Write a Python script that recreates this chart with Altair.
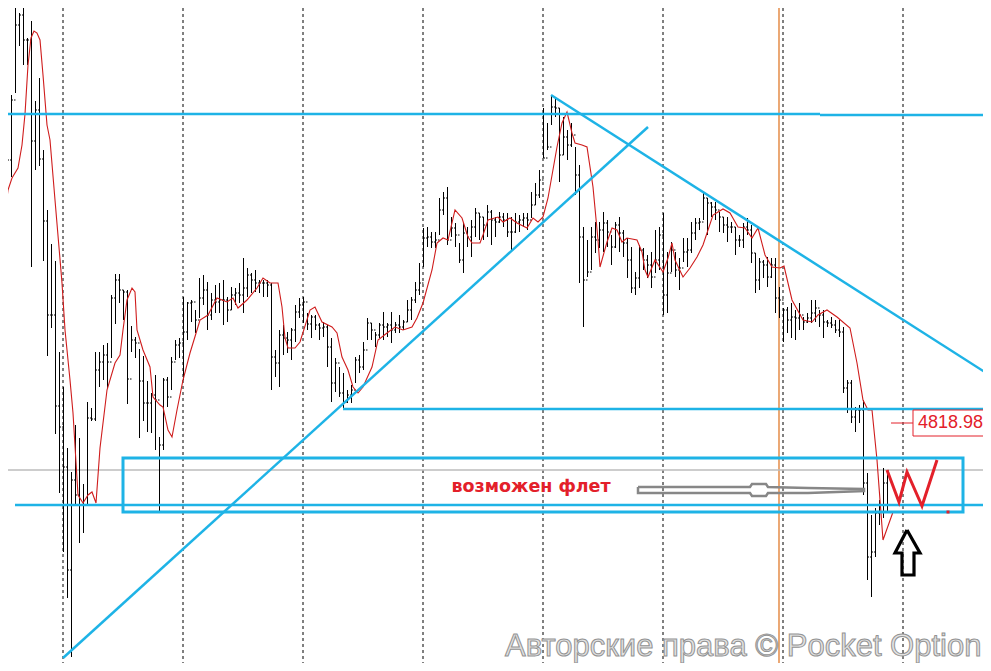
import altair as alt
import pandas as pd

# ---- OHLC bars (prices) ----
high = [5086,5088,5147,5240,5229,5242,5204,5221,5141,5164,
        5092,5032,4998,4981,4890,4855,4794,4770,4817,4804,
        4758,4840,4834,4890,4890,4897,4899,4947,4968,4968,
        4952,4952,4916,4905,4893,4886,4861,4849,4867,4805,
        4864,4865,4885,4902,4904,4945,4940,4942,4932,4964,
        4967,4960,4949,4957,4959,4962,4945,4955,4954,4959,
        4984,4974,4969,4972,4962,4962,4962,4959,4892,4912,
        4917,4910,4914,4937,4944,4945,4929,4927,4927,4919,
        4920,4917,4904,4884,4875,4869,4852,4857,4885,4887,
        4900,4924,4919,4910,4919,4930,4919,4930,4920,4927,
        4922,4942,4945,4960,4979,5014,5015,5010,5010,5044,
        5050,5055,5025,5019,4999,5019,5015,5022,5034,5029,
        5025,5037,5032,5025,5030,5029,5029,5025,5029,5027,
        5029,5029,5050,5059,5072,5134,5119,5147,5145,5134,
        5125,5112,5119,5095,5077,5015,5002,5015,5020,5020,
        5030,5022,5007,5020,5025,5012,5004,4995,4970,4997,
        4994,4987,4990,5012,5015,5029,4990,5000,4990,4984,
        5004,5004,5020,5024,5024,5050,5044,5040,5040,5030,
        5025,5025,5020,5015,5007,5019,5024,5017,4989,4984,
        4982,4985,4984,4984,4955,4934,4935,4939,4932,4939,
        4925,4929,4942,4942,4932,4932,4922,4925,4922,4922,
        4915,4862,4862,4835,4837,4842,4769,4727,4734,4742,
        4774,4772]
low = [5048,5044,5065,5149,5196,5177,5177,4975,5072,5076,
       4981,4886,4914,4808,4749,4690,4644,4585,4737,4699,
       4709,4737,4821,4821,4855,4862,4853,4884,4918,4939,
       4922,4838,4890,4884,4804,4821,4810,4809,4792,4729,
       4792,4835,4852,4882,4884,4862,4902,4920,4909,4924,
       4937,4912,4922,4929,4929,4917,4920,4932,4937,4939,
       4929,4945,4949,4950,4949,4945,4945,4852,4865,4855,
       4887,4889,4882,4900,4924,4919,4912,4904,4912,4902,
       4905,4875,4840,4850,4845,4832,4839,4839,4859,4869,
       4872,4902,4902,4895,4904,4902,4905,4899,4909,4909,
       4912,4920,4922,4939,4947,4975,4995,4994,4994,5007,
       5027,4997,5005,4995,4979,4969,4995,4985,5005,5002,
       5002,5005,4997,5005,5019,5015,5005,4990,5009,5010,
       5015,5012,5024,5037,5044,5084,5092,5117,5125,5060,
       5087,5082,5095,5047,4959,4915,4965,4972,4989,4994,
       4990,4995,4977,4994,4990,4985,4964,4949,4947,4954,
       4972,4964,4954,4969,4972,4927,4929,4970,4965,4952,
       4980,4975,4989,5002,5012,5022,5007,5025,5022,5010,
       5009,5000,5009,4987,4995,4994,5007,4979,4949,4952,
       4964,4955,4964,4929,4924,4900,4909,4904,4902,4912,
       4912,4919,4919,4920,4915,4904,4915,4914,4909,4905,
       4849,4829,4819,4810,4819,4747,4662,4645,4685,4717,
       4724,4730]
close = [5072,5082,5142,5217,5227,5202,5202,5101,5132,5083,
         5021,4927,4927,4836,4815,4775,4672,4762,4747,4737,
         4737,4824,4823,4872,4880,4887,4880,4944,4962,4952,
         4950,4863,4902,4899,4861,4839,4839,4847,4842,4797,
         4862,4845,4880,4897,4899,4910,4939,4940,4922,4944,
         4952,4927,4942,4940,4942,4942,4932,4947,4949,4947,
         4954,4967,4962,4959,4959,4959,4957,4885,4879,4907,
         4904,4902,4912,4930,4937,4940,4918,4925,4917,4914,
         4915,4895,4859,4879,4849,4840,4847,4852,4882,4875,
         4892,4919,4912,4907,4917,4915,4917,4912,4917,4915,
         4920,4932,4942,4952,4959,5004,5005,5000,5002,5032,
         5044,5002,5014,5007,4982,5009,5005,5015,5029,5025,
         5017,5030,5022,5020,5025,5022,5010,5010,5020,5022,
         5024,5022,5037,5047,5062,5084,5095,5135,5134,5087,
         5105,5097,5107,5067,5005,4962,4970,5005,5002,5012,
         5019,5010,4995,5017,5009,4999,4982,4954,4964,4992,
         4982,4977,4965,4982,5007,4947,4969,4992,4972,4974,
         4990,4992,5009,5019,5020,5044,5039,5035,5032,5025,
         5017,5015,5015,5002,5002,5015,5012,4989,4962,4980,
         4977,4965,4977,4944,4942,4932,4922,4925,4924,4927,
         4920,4924,4929,4934,4927,4920,4919,4917,4912,4910,
         4854,4859,4825,4832,4832,4759,4685,4690,4729,4730,
         4759,4771]

# ---- moving average (red line): time, price ----
ma_t = [0,4,8,12,18,22,25,28,31,34,37,40,43,47,50,55,62,65,70,73,78,83,88,92,96,
        100,107,115,120,123,127,132,135,137,143,150,153,160,163,168,172,177,183,190,197,
        200,208,217,227,233,238,247,257,263,270,278,282,285,288,295,300,310,315,322,332,
        337,342,348,353,358,363,372,378,387,395,403,412,417,423,432,437,443,448,455,462,
        468,472,480,483,488,498,503,510,517,527,533,538,543,548,557,562,567,572,575,582,
        587,593,598,600,607,612,617,622,627,637,642,645,648,655,663,668,672,675,683,690,
        697,703,713,723,730,738,745,752,758,765,772,780,784,792,803,812,818,827,837,850,
        857,863,868,872,877,883,893]
ma_p = [4994,5022,5052,5064,5074,5097,5128,5177,5204,5211,5209,5202,5167,5117,5102,5042,4959,4912,4862,4829,4747,4739,4747,4750,4739,
        4794,4852,4879,4887,4912,4942,4954,4950,4912,4892,4875,4845,4837,4835,4812,4805,4832,4862,4889,4912,
        4922,4927,4944,4940,4944,4934,4942,4954,4964,4959,4959,4935,4904,4894,4894,4900,4932,4935,4920,4915,
        4909,4885,4872,4855,4849,4855,4875,4902,4909,4915,4912,4915,4924,4939,4972,4999,5004,5002,5032,5024,
        5005,4999,4999,5007,5022,5025,5020,5024,5019,5014,5024,5020,5025,5044,5095,5119,5130,5109,5099,5097,
        5095,5055,5002,4975,5000,5014,5012,5000,5004,5002,4990,4972,4965,4982,4970,4984,4999,4982,4965,4974,
        4985,4997,5027,5033,5029,5015,5014,5004,5014,4987,4975,4974,4976,4942,4922,4920,4927,4932,4925,4914,
        4879,4842,4832,4832,4782,4702,4730]

# ---- annotations ----
grid_t = [63, 183, 303, 423, 543, 663, 783, 903]
marker_t = [779]
last_price = [4772]

seg_x1 = [0, 820, 343, 15, 63, 551]
seg_x2 = [820, 991, 991, 991, 648, 991]
seg_y1 = [5128, 5127, 4833, 4737, 4584, 5147]
seg_y2 = [5128, 5127, 4833, 4737, 5115, 4866]

box_x = [123, 963]
box_y = [4784, 4730]

arrow_gray_t = [638, 750, 752, 766, 768, 808, 864, 864, 808, 768, 766, 752, 750, 638, 638]
arrow_gray_p = [4755, 4755, 4758, 4758, 4755, 4754, 4753, 4751, 4749, 4749, 4746, 4746, 4749, 4749, 4755]

w_t = [887, 899, 907, 922, 937]
w_p = [4772, 4740, 4770, 4736, 4782]

up_t = [907, 920, 914, 914, 902, 902, 895, 907]
up_p = [4712, 4689, 4689, 4667, 4667, 4689, 4689, 4712]

note_text = ["возможен флет"]
price_label = ["4818.98"]
watermark = ["Авторские права © Pocket Option"]

# ---- build ----
N = len(close)
t = [4 * n - 0.5 for n in range(1, N + 1)]
open_ = [close[0]] + close[:-1]
bars = pd.DataFrame({"t": t, "high": high, "low": low, "close": close, "open": open_})
bars["tl"] = bars["t"] - 1.5
bars["tr"] = bars["t"] + 1.5

xs = alt.Scale(domain=[8, 983], nice=False, zero=False)
ys = alt.Scale(domain=[4579, 5234], nice=False, zero=False)


def X(f):
    return alt.X(f, type="quantitative", scale=xs, axis=None)


def Y(f):
    return alt.Y(f, type="quantitative", scale=ys, axis=None)


cyan = "#1eb3e6"
red = "#e3202a"

grid = alt.Chart(pd.DataFrame({"t": grid_t})).mark_rule(
    color="black", strokeWidth=1, strokeDash=[3, 3]).encode(x=X("t"))
marker = alt.Chart(pd.DataFrame({"t": marker_t})).mark_rule(
    color="#e07a2c", strokeWidth=1.3).encode(x=X("t"))
lastp = alt.Chart(pd.DataFrame({"p": last_price})).mark_rule(
    color="#bdbdbd", strokeWidth=1.5).encode(y=Y("p"))

hl = alt.Chart(bars).mark_rule(color="black", strokeWidth=1, clip=True).encode(
    x=X("t"), y=Y("low"), y2="high")
op = alt.Chart(bars).mark_rule(color="black", strokeWidth=1, clip=True).encode(
    x=X("tl"), x2="t", y=Y("open"))
cl = alt.Chart(bars).mark_rule(color="black", strokeWidth=1, clip=True).encode(
    x=X("t"), x2="tr", y=Y("close"))

ma = alt.Chart(pd.DataFrame({"t": ma_t, "p": ma_p})).mark_line(
    color="#cf1c1c", strokeWidth=1.1, clip=True).encode(x=X("t"), y=Y("p"))

segs = alt.Chart(pd.DataFrame({"x1": seg_x1, "x2": seg_x2, "y1": seg_y1, "y2": seg_y2})).mark_rule(
    color=cyan, strokeWidth=2.5, clip=True).encode(x=X("x1"), x2="x2", y=Y("y1"), y2="y2")

box = alt.Chart(pd.DataFrame({"x1": [box_x[0]], "x2": [box_x[1]], "y1": [box_y[0]], "y2": [box_y[1]]})).mark_rect(
    fillOpacity=0, stroke=cyan, strokeWidth=3, clip=True).encode(x=X("x1"), x2="x2", y=Y("y1"), y2="y2")

gray_arrow = alt.Chart(pd.DataFrame({"t": arrow_gray_t, "p": arrow_gray_p, "k": list(range(len(arrow_gray_t)))})).mark_line(
    color="#878787", strokeWidth=2.5).encode(x=X("t"), y=Y("p"), order=alt.Order("k:Q"))

note = alt.Chart(pd.DataFrame({"t": [531], "p": [4755], "s": note_text})).mark_text(
    font="DejaVu Sans", fontWeight="bold", fontSize=17.5, color=red, align="center", baseline="middle").encode(
    x=X("t"), y=Y("p"), text="s:N")

wline = alt.Chart(pd.DataFrame({"t": w_t, "p": w_p, "k": list(range(len(w_t)))})).mark_line(
    color=red, strokeWidth=3).encode(x=X("t"), y=Y("p"), order=alt.Order("k:Q"))
dot = alt.Chart(pd.DataFrame({"t": [948], "p": [4730]})).mark_square(
    color=red, size=9, opacity=1).encode(x=X("t"), y=Y("p"))

up = alt.Chart(pd.DataFrame({"t": up_t, "p": up_p, "k": list(range(len(up_t)))})).mark_line(
    color="black", strokeWidth=3.2, strokeJoin="miter").encode(x=X("t"), y=Y("p"), order=alt.Order("k:Q"))

lab_line = alt.Chart(pd.DataFrame({"x1": [891], "x2": [913], "p": [4819]})).mark_rule(
    color=red, strokeWidth=1).encode(x=X("x1"), x2="x2", y=Y("p"))
lab_box = alt.Chart(pd.DataFrame({"x1": [913], "x2": [991], "y1": [4832], "y2": [4806]})).mark_rect(
    fill="white", stroke=red, strokeWidth=1).encode(x=X("x1"), x2="x2", y=Y("y1"), y2="y2")
lab_text = alt.Chart(pd.DataFrame({"t": [918], "p": [4819], "s": price_label})).mark_text(
    font="Liberation Sans", fontSize=18, color=red, align="left", baseline="middle").encode(
    x=X("t"), y=Y("p"), text="s:N")

wm = alt.Chart(pd.DataFrame({"t": [505], "p": [4586], "s": watermark})).mark_text(
    font="Liberation Sans", fontSize=31, color="#e2e2e2", stroke="#939393", strokeWidth=1,
    align="left", baseline="alphabetic").encode(x=X("t"), y=Y("p"), text="s:N")

chart = alt.layer(
    grid, marker, lastp, hl, op, cl, ma, segs, box, gray_arrow, note, wline, dot, up,
    lab_line, lab_box, lab_text, wm
).properties(
    width=975, height=655, padding=0, autosize="none", background="white"
).configure_view(strokeWidth=0)

chart.save("out.html", embed_options={"renderer": "svg", "actions": False})
